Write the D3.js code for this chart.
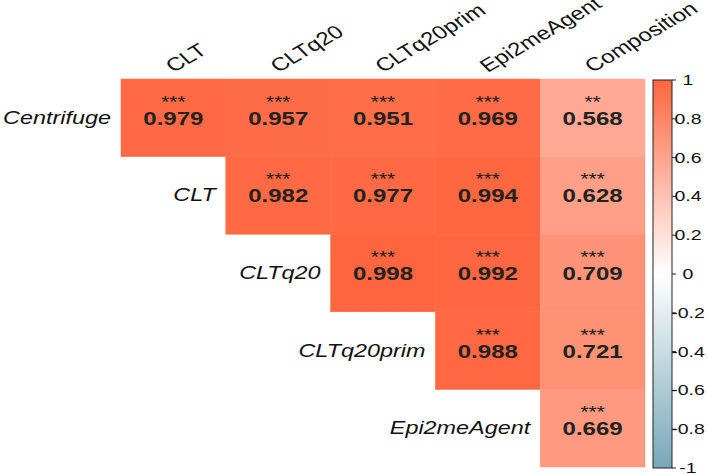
<!DOCTYPE html>
<html>
<head>
<meta charset="utf-8">
<script src="https://cdn.jsdelivr.net/npm/d3@7"></script>
<style>
  body { margin: 0; background: #fff; }
  text { font-family: "Liberation Sans", Arial, sans-serif; }
</style>
</head>
<body>
<div id="chart"></div>
<script>
// Data
const rows = ["Centrifuge", "CLT", "CLTq20", "CLTq20prim", "Epi2meAgent"];
const cols = ["CLT", "CLTq20", "CLTq20prim", "Epi2meAgent", "Composition"];
// upper triangle, row i starts at column i
const values = [
    [0.979, 0.957, 0.951, 0.969, 0.568],
    [0.982, 0.977, 0.994, 0.628],
    [0.998, 0.992, 0.709],
    [0.988, 0.721],
    [0.669]
];
const stars = [
    ["***", "***", "***", "***", "**"],
    ["***", "***", "***", "***"],
    ["***", "***", "***"],
    ["***", "***"],
    ["***"]
];
const legendTicks = [1, 0.8, 0.6, 0.4, 0.2, 0, -0.2, -0.4, -0.6, -0.8, -1];

const cells = [];
values.forEach((r, i) => r.forEach((v, k) => {
    cells.push({ row: rows[i], col: cols[i + k], value: v, sig: stars[i][k] });
}));

const width = 708, height = 475;
const sx = 1.3; // picture is stretched sideways

const svg = d3.select("#chart")
    .append("svg")
    .attr("width", width)
    .attr("height", height);

const x = d3.scaleBand().domain(cols).range([121, 645]);
const y = d3.scaleBand().domain(rows).range([79, 467]);

const color = d3.scaleLinear()
    .domain([-1, 0, 1])
    .range(["#77a7b9", "#ffffff", "#ff6640"]);

// Cells
svg.selectAll(".cell")
    .data(cells)
    .enter()
    .append("rect")
    .attr("class", "cell")
    .attr("x", d => x(d.col))
    .attr("y", d => y(d.row))
    .attr("width", x.bandwidth())
    .attr("height", y.bandwidth())
    .attr("fill", d => color(d.value))
    .attr("stroke", d => color(d.value))
    .attr("stroke-width", 0.5);

// Stars
svg.selectAll(".sig")
    .data(cells)
    .enter()
    .append("text")
    .attr("class", "sig")
    .attr("text-anchor", "middle")
    .attr("transform", d => `translate(${x(d.col) + x.bandwidth() / 2},${y(d.row) + y.bandwidth() / 2 - 10}) scale(${sx},1)`)
    .style("font-size", "16px")
    .style("fill", "#1a1a1a")
    .text(d => d.sig);

// Values
svg.selectAll(".val")
    .data(cells)
    .enter()
    .append("text")
    .attr("class", "val")
    .attr("text-anchor", "middle")
    .attr("transform", d => `translate(${x(d.col) + x.bandwidth() / 2},${y(d.row) + y.bandwidth() / 2 + 7}) scale(${sx},1)`)
    .style("font-size", "18.5px")
    .style("font-weight", "bold")
    .style("fill", "#222")
    .text(d => d.value.toFixed(3));

// Row labels
svg.selectAll(".row-label")
    .data(rows)
    .enter()
    .append("text")
    .attr("class", "row-label")
    .attr("text-anchor", "end")
    .attr("transform", (d, i) => `translate(${x(cols[i]) - 10},${y(d) + y.bandwidth() / 2 + 6}) scale(${sx},1)`)
    .style("font-size", "18px")
    .style("font-style", "italic")
    .style("fill", "#111")
    .text(d => d);

// Column labels
svg.selectAll(".col-label")
    .data(cols)
    .enter()
    .append("text")
    .attr("class", "col-label")
    .attr("text-anchor", "start")
    .attr("transform", d => `translate(${x(d) + x.bandwidth() / 2},73) scale(${sx},1) rotate(-37)`)
    .style("font-size", "18.5px")
    .style("fill", "#111")
    .text(d => d);

// Legend
const defs = svg.append("defs");
const grad = defs.append("linearGradient")
    .attr("id", "legend-gradient")
    .attr("x1", "0%").attr("x2", "0%")
    .attr("y1", "100%").attr("y2", "0%");
d3.range(-1, 1.001, 0.1).forEach(v => {
    grad.append("stop")
        .attr("offset", `${(v + 1) * 50}%`)
        .attr("stop-color", color(v));
});

const ly = d3.scaleLinear().domain([-1, 1]).range([468, 80]);
const legendX = 653, legendW = 19;

svg.append("rect")
    .attr("x", legendX)
    .attr("y", ly(1))
    .attr("width", legendW)
    .attr("height", ly(-1) - ly(1))
    .attr("fill", "url(#legend-gradient)")
    .attr("stroke", "#222")
    .attr("stroke-width", 1);

const legendAxis = svg.append("g")
    .attr("transform", `translate(${legendX + legendW},0)`);

legendAxis.selectAll("line")
    .data(legendTicks)
    .enter()
    .append("line")
    .attr("x1", 0).attr("x2", 4)
    .attr("y1", d => ly(d)).attr("y2", d => ly(d))
    .attr("stroke", "#222");

legendAxis.selectAll("text")
    .data(legendTicks)
    .enter()
    .append("text")
    .attr("text-anchor", "middle")
    .attr("transform", d => `translate(16,${ly(d) + 5}) scale(${sx},1)`)
    .style("font-size", "15px")
    .style("fill", "#111")
    .text(d => d3.format("")(d).replace("−", "-"));
</script>
</body>
</html>
